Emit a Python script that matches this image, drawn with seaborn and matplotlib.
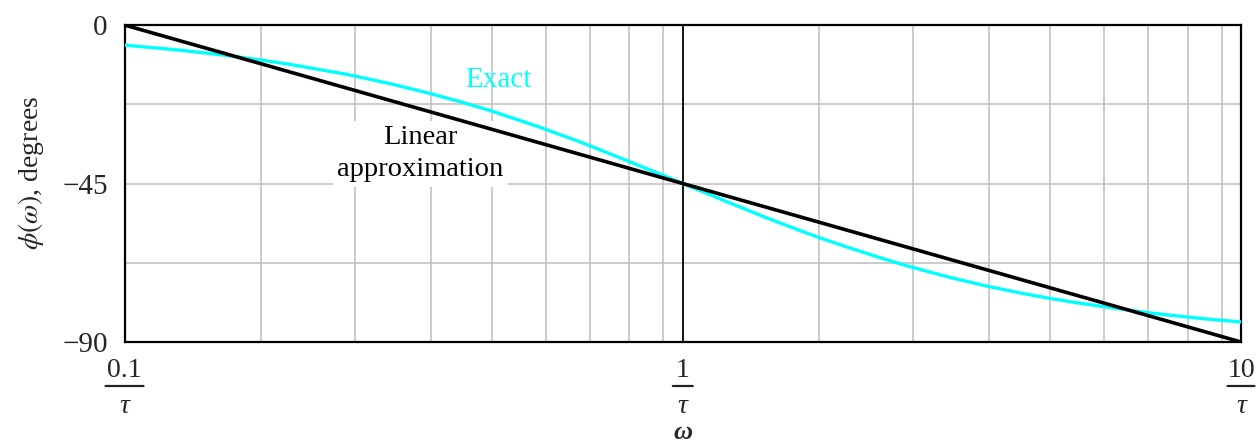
import matplotlib
matplotlib.use("Agg")
import matplotlib.pyplot as plt
from matplotlib.ticker import FixedLocator, NullFormatter
from matplotlib.transforms import ScaledTranslation, blended_transform_factory
import pandas as pd
import seaborn as sns

# Exact phase response of a first-order lag, read at selected frequencies (omega in units of 1/tau)
omega_exact = [0.1, 0.125, 0.15, 0.175, 0.2, 0.25, 0.3, 0.35, 0.4, 0.45, 0.5, 0.55, 0.6,
               0.65, 0.7, 0.75, 0.8, 0.85, 0.9, 0.95, 1.0, 1.05, 1.1, 1.2, 1.3, 1.4, 1.5,
               1.6, 1.75, 2.0, 2.25, 2.5, 2.75, 3.0, 3.5, 4.0, 4.5, 5.0, 6.0, 7.0, 8.0,
               9.0, 10.0]
phase_exact = [-5.7, -7.1, -8.5, -9.9, -11.3, -14.0, -16.7, -19.3, -21.8, -24.2, -26.6,
               -28.8, -31.0, -33.0, -35.0, -36.9, -38.7, -40.4, -42.0, -43.5, -45.0,
               -46.4, -47.7, -50.2, -52.4, -54.5, -56.3, -58.0, -60.3, -63.4, -66.0,
               -68.2, -70.0, -71.6, -74.1, -76.0, -77.5, -78.7, -80.5, -81.9, -82.9,
               -83.7, -84.3]

# Straight-line (asymptotic) approximation: 0 deg at 0.1/tau down to -90 deg at 10/tau
omega_linear = [0.1, 10.0]
phase_linear = [0.0, -90.0]

# Axis ticks and labels (x labels are fractions: numerator over tau)
x_major = [0.1, 1.0, 10.0]
x_numerators = ["0.1", "1", "10"]
x_denominator = "\u03c4"
x_grid = [0.1754, 0.2588, 0.354, 0.455, 0.569, 0.682, 0.802, 0.923,
          1.754, 2.588, 3.54, 4.55, 5.69, 6.82, 8.02, 9.23]
y_major = [0, -45, -90]
y_major_labels = ["0", "\u221245", "\u221290"]
y_grid = [-22.5, -67.5]

exact_df = pd.DataFrame({"omega": omega_exact, "phase": phase_exact})
linear_df = pd.DataFrame({"omega": omega_linear, "phase": phase_linear})

sns.set_theme(style="white")
plt.rcParams["font.family"] = ["Liberation Serif", "DejaVu Serif"]
plt.rcParams["mathtext.fontset"] = "stix"

CYAN = "#00ffff"
DPI = 100
fig = plt.figure(figsize=(12.59, 4.43), dpi=DPI)
ax = fig.add_axes([0.0989, 0.228, 0.8868, 0.7155])

sns.lineplot(data=exact_df, x="omega", y="phase", ax=ax, color=CYAN,
             lw=2.4, zorder=3, sort=False)
sns.lineplot(data=linear_df, x="omega", y="phase", ax=ax, color="black",
             lw=2.6, zorder=4, sort=False)

ax.set_xscale("log")
ax.set_xlim(0.1, 10)
ax.set_ylim(-90, 0)

# Grid
ax.xaxis.set_major_locator(FixedLocator(x_major))
ax.xaxis.set_major_formatter(NullFormatter())
ax.xaxis.set_minor_locator(FixedLocator(x_grid))
ax.xaxis.set_minor_formatter(NullFormatter())
ax.yaxis.set_major_locator(FixedLocator(y_major))
ax.set_yticklabels(y_major_labels)
ax.yaxis.set_minor_locator(FixedLocator(y_grid))
ax.yaxis.set_minor_formatter(NullFormatter())

ax.grid(False)
ax.grid(True, which="minor", axis="x", color="#bdbdbd", lw=1.1)
ax.grid(True, which="both", axis="y", color="#bdbdbd", lw=1.1)
ax.set_axisbelow(True)
ax.axvline(1.0, color="black", lw=1.3, zorder=1.5)

ax.tick_params(axis="both", which="both", length=0)
ax.tick_params(axis="y", labelsize=21, pad=12)

for s in ax.spines.values():
    s.set_color("black")
    s.set_linewidth(1.6)
    s.set_visible(True)

# Fraction tick labels below the axis: numerator, bar, tau
base = blended_transform_factory(ax.transData, ax.transAxes)


def px_offset(dx, dy):
    return base + ScaledTranslation(dx / DPI, dy / DPI, fig.dpi_scale_trans)


bar_half_widths = [19, 10, 13.5]
for xv, num, hw in zip(x_major, x_numerators, bar_half_widths):
    ax.text(xv, 0, num, transform=px_offset(0, -35), ha="center", va="baseline",
            fontsize=20, clip_on=False)
    ax.annotate("", xy=(xv, 0), xycoords=px_offset(hw, -44),
                xytext=(xv, 0), textcoords=px_offset(-hw, -44),
                arrowprops=dict(arrowstyle="-", lw=1.6, color="#222222",
                                shrinkA=0, shrinkB=0),
                annotation_clip=False)
    ax.text(xv, 0, x_denominator, transform=px_offset(0, -71), ha="center",
            va="baseline", fontsize=20, style="italic", clip_on=False)

ax.set_xlabel("\u03c9", fontsize=19, style="italic", fontweight="bold")
ax.xaxis.label.set_verticalalignment("baseline")
ax.xaxis.set_label_coords(0.5, -0.306)

ax.text(0.468, -15.5, "Exact", color=CYAN, fontsize=21, ha="center", va="center")
ax.text(0.339, -36.5, "Linear\napproximation", color="black", fontsize=20.5,
        ha="center", va="center", linespacing=1.4, zorder=2.5,
        bbox=dict(facecolor="white", edgecolor="none", boxstyle="square,pad=0.15"))

ax.set_ylabel(r"$\phi(\omega)$, degrees", fontsize=20)
ax.yaxis.set_label_coords(-0.070, 0.533)

fig.savefig("out.png", dpi=DPI)
